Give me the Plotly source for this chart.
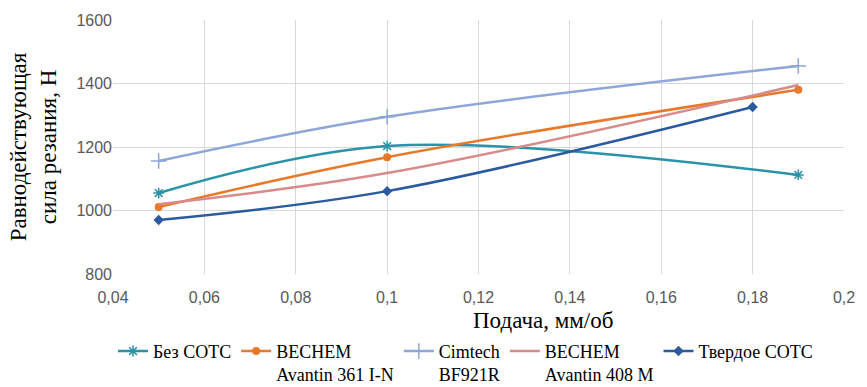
import plotly.graph_objects as go

feed = [0.05, 0.1, 0.19]
feed_solid = [0.05, 0.1, 0.18]
bez_sots = [1055, 1203, 1112]
bechem_361 = [1011, 1168, 1380]
cimtech = [1156, 1295, 1455]
bechem_408 = [1020, 1118, 1395]
tverdoe = [970, 1061, 1326]

x_ticks = [0.04, 0.06, 0.08, 0.1, 0.12, 0.14, 0.16, 0.18, 0.2]
x_tick_labels = ["0,04", "0,06", "0,08", "0,1", "0,12", "0,14", "0,16", "0,18", "0,2"]
y_ticks = [800, 1000, 1200, 1400, 1600]

series = [
    ("Без СОТС", feed, bez_sots, "#2A93A8", dict(symbol="asterisk-open", size=9, line=dict(width=1.5, color="#2A93A8"))),
    ("BECHEM<br>Avantin 361 I-N", feed, bechem_361, "#E8782A", dict(symbol="circle", size=8)),
    ("Cimtech<br>BF921R", feed, cimtech, "#8EA6D8", dict(symbol="cross-thin-open", size=11, line=dict(width=1.5, color="#8EA6D8"))),
    ("BECHEM<br>Avantin 408 M", feed, bechem_408, "#D98A8A", None),
    ("Твердое СОТС", feed_solid, tverdoe, "#2B5A9E", dict(symbol="diamond", size=8)),
]

fig = go.Figure()
for name, xs, ys, color, marker in series:
    line = dict(color=color, width=2.5, shape="spline", smoothing=1)
    if marker is None:
        fig.add_trace(go.Scatter(x=xs, y=ys, name=name, mode="lines", line=line))
    else:
        fig.add_trace(go.Scatter(x=xs, y=ys, name=name, mode="lines+markers",
                                 line=line, marker=dict(marker, color=color)))

tick_font = dict(family="Liberation Sans", size=16, color="#595959")
title_font = dict(family="Liberation Serif", size=23, color="#000000")

fig.update_layout(
    width=867, height=387,
    margin=dict(l=113, r=19, t=20, b=113),
    plot_bgcolor="white", paper_bgcolor="white",
    showlegend=True,
    legend=dict(orientation="h", x=0, y=0.14, xref="paper", yref="container",
                xanchor="left", yanchor="top",
                font=dict(family="Liberation Serif", size=18, color="#000000"),
                valign="top", tracegroupgap=0, itemwidth=30),
    xaxis=dict(range=[0.04, 0.2], tickvals=x_ticks, ticktext=x_tick_labels,
               showgrid=True, gridcolor="#D9D9D9", gridwidth=1, zeroline=False,
               showline=False, ticks="", ticklabelstandoff=12, tickfont=tick_font),
    yaxis=dict(range=[800, 1600], tickvals=y_ticks,
               showgrid=True, gridcolor="#D9D9D9", gridwidth=1, zeroline=False,
               showline=False, ticks="", tickfont=tick_font,
               title=dict(text="Равнодействующая<br>сила резания, Н", standoff=13,
                          font=title_font)),
    annotations=[dict(text="Подача, мм/об", x=0.588, y=-0.185, xref="paper", yref="paper",
                      xanchor="center", yanchor="middle", showarrow=False, font=title_font)],
)

fig.write_html("out.html")
